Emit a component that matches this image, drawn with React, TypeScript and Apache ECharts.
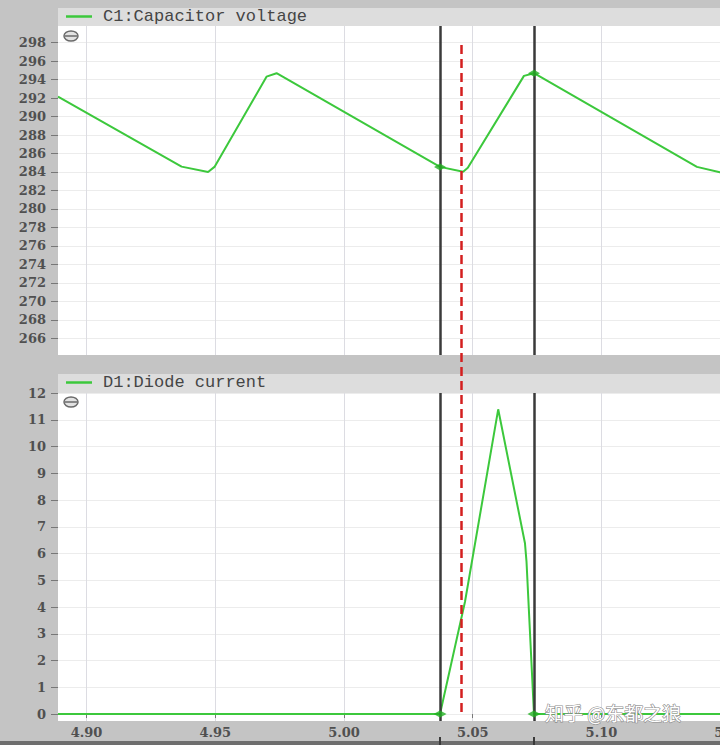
import React, { useEffect, useRef } from "react";
import * as echarts from "echarts";

// ---- data ----
const xTicks = [4.9, 4.95, 5.0, 5.05, 5.1, 5.15];
const capTicks = [266, 268, 270, 272, 274, 276, 278, 280, 282, 284, 286, 288, 290, 292, 294, 296, 298];
const diodeTicks = [0, 1, 2, 3, 4, 5, 6, 7, 8, 9, 10, 11, 12];

const capName = "C1:Capacitor voltage";
const diodeName = "D1:Diode current";

const capTime = [4.8889, 4.9369, 4.9472, 4.9498, 4.9699, 4.9738, 5.0373, 5.0463, 5.0481, 5.0699, 5.0738, 5.1371, 5.146, 5.1616];
const capVolt = [292.16, 284.58, 284.0, 284.58, 294.32, 294.69, 284.55, 284.03, 284.45, 294.4, 294.69, 284.55, 283.97, 283.1];

const diodeTime = [4.8889, 5.0373, 5.047, 5.0599, 5.0703, 5.0709, 5.0738, 5.1616];
const diodeAmp = [0, 0, 4.2, 11.4, 6.39, 5.7, 0, 0];

const cursorTimes = [5.0373, 5.0738];
const capAtCursor = [284.55, 294.69];
const diodeAtCursor = [0, 0];
const refCursorTime = 5.0454;

const watermark = "知乎 @东都之狼";

// ---- layout ----
const X_MIN = 4.8889;
const X_MAX = 5.1616;
const GL = 58;
const GW = 702;
const CHART_W = GL + GW;

const zip = (a: number[], b: number[]) => a.map((t, i) => [t, b[i]]);

const labelFont = {
  fontFamily: "DejaVu Serif",
  fontWeight: "bold" as const,
  fontSize: 13,
  color: "#505050",
};

function xAxis(gi: number, labels: boolean) {
  return {
    type: "value",
    gridIndex: gi,
    min: X_MIN,
    max: X_MAX,
    axisLine: { show: false },
    axisTick: { show: labels, customValues: xTicks, length: 4, lineStyle: { color: "#777" } },
    axisLabel: {
      show: labels,
      customValues: xTicks,
      formatter: (v: number) => v.toFixed(2),
      margin: 5,
      ...labelFont,
    },
    splitLine: { show: gi < 2, lineStyle: { color: "#dcdce2", width: 1 } },
  };
}

function yAxis(gi: number, min: number, max: number, ticks: number[] | null) {
  if (!ticks) {
    return { type: "value", gridIndex: gi, min, max, show: false };
  }
  return {
    type: "value",
    gridIndex: gi,
    min,
    max,
    axisLine: { show: false },
    axisTick: { show: true, customValues: ticks, length: 7, lineStyle: { color: "#777" } },
    axisLabel: { customValues: ticks, margin: 12, ...labelFont },
    splitLine: { show: true, lineStyle: { color: "#ececec", width: 1 } },
  };
}

function cursorLine(width: number) {
  return {
    silent: true,
    precision: 6,
    symbol: ["none", "none"],
    label: { show: false },
    lineStyle: { type: "solid", color: "#3a3a3a", width },
    data: cursorTimes.map((t) => ({ xAxis: t })),
  };
}

const green = "#3cc83c";

function legend(name: string, top: number) {
  return {
    data: [name],
    left: 66,
    top,
    padding: 0,
    selectedMode: false,
    icon: "rect",
    itemWidth: 26,
    itemHeight: 2.5,
    itemStyle: { color: green },
    textStyle: {
      fontFamily: "Liberation Mono",
      fontSize: 17,
      color: "#454545",
      padding: [0, 0, 0, 6],
    },
  };
}

function iconGraphic(cy: number) {
  return [
    {
      type: "ellipse",
      shape: { cx: 71, cy, rx: 7, ry: 5 },
      style: { fill: "#e2e2e2", stroke: "#6a6a6a", lineWidth: 1.5 },
      z: 5,
    },
    {
      type: "line",
      shape: { x1: 65, y1: cy, x2: 77, y2: cy },
      style: { stroke: "#6a6a6a", lineWidth: 1.5 },
      z: 6,
    },
  ];
}

const gridBase = { left: GL, width: GW, containLabel: false, outerBoundsMode: "none" };

export default function App() {
  const ref = useRef<HTMLDivElement>(null);
  useEffect(() => {
    if (!ref.current) return;
    const chart = echarts.init(ref.current, null, { renderer: "svg" });
    chart.setOption({
      animation: false,
      backgroundColor: "#c4c4c4",
      grid: [
        { ...gridBase, top: 26, height: 329, show: true, backgroundColor: "#ffffff", borderWidth: 0 },
        { ...gridBase, top: 393, height: 328, show: true, backgroundColor: "#ffffff", borderWidth: 0 },
        { ...gridBase, top: 42, height: 670, show: false },
        { ...gridBase, top: 737, height: 8, show: false },
      ],
      xAxis: [xAxis(0, false), xAxis(1, true), xAxis(2, false), xAxis(3, false)],
      yAxis: [
        yAxis(0, 264.19, 299.8, capTicks),
        yAxis(1, -0.26, 12.01, diodeTicks),
        yAxis(2, 0, 1, null),
        yAxis(3, 0, 1, null),
      ],
      legend: [legend(capName, 8), legend(diodeName, 374)],
      graphic: [
        { type: "rect", shape: { x: GL, y: 8, width: CHART_W - GL, height: 18 }, style: { fill: "#dddddd" }, z: 0 },
        { type: "rect", shape: { x: GL, y: 374, width: CHART_W - GL, height: 19 }, style: { fill: "#dddddd" }, z: 0 },
        { type: "rect", shape: { x: 0, y: 741, width: CHART_W, height: 4 }, style: { fill: "#6e6e6e" }, z: 0 },
        ...iconGraphic(36),
        ...iconGraphic(402),
        {
          type: "text",
          x: 545,
          y: 703,
          z: 100,
          style: {
            text: watermark,
            fontSize: 19,
            lineHeight: 19,
            verticalAlign: "top",
            fontFamily: "Noto Sans CJK SC",
            fill: "#ffffff",
            stroke: "#8a8a8a",
            lineWidth: 1.2,
          },
        },
      ],
      series: [
        {
          name: capName,
          type: "line",
          xAxisIndex: 0,
          yAxisIndex: 0,
          data: zip(capTime, capVolt),
          showSymbol: false,
          symbol: "none",
          lineStyle: { color: green, width: 2 },
          itemStyle: { color: green },
          markLine: cursorLine(2.5),
        },
        {
          type: "scatter",
          xAxisIndex: 0,
          yAxisIndex: 0,
          data: zip(cursorTimes, capAtCursor),
          symbol: "diamond",
          symbolSize: [12, 7],
          itemStyle: { color: "#22b022" },
          z: 5,
        },
        {
          name: diodeName,
          type: "line",
          xAxisIndex: 1,
          yAxisIndex: 1,
          data: zip(diodeTime, diodeAmp),
          showSymbol: false,
          symbol: "none",
          lineStyle: { color: green, width: 2 },
          itemStyle: { color: green },
          markLine: cursorLine(2.5),
        },
        {
          type: "scatter",
          xAxisIndex: 1,
          yAxisIndex: 1,
          data: zip(cursorTimes, diodeAtCursor),
          symbol: "diamond",
          symbolSize: [13, 7],
          itemStyle: { color: "#22b022" },
          z: 5,
        },
        {
          type: "line",
          xAxisIndex: 2,
          yAxisIndex: 2,
          data: [],
          z: 10,
          markLine: {
            silent: true,
            precision: 6,
            symbol: ["none", "none"],
            label: { show: false },
            lineStyle: { type: [9, 5], color: "#d41f1f", width: 2.5 },
            data: [{ xAxis: refCursorTime }],
          },
        },
        {
          type: "line",
          xAxisIndex: 3,
          yAxisIndex: 3,
          data: [],
          markLine: cursorLine(2),
        },
      ],
    });
    return () => chart.dispose();
  }, []);
  return (
    <div style={{ position: "fixed", left: 0, top: 0, width: 720, height: 745, overflow: "hidden" }}>
      <div ref={ref} style={{ width: CHART_W, height: 745 }} />
    </div>
  );
}
